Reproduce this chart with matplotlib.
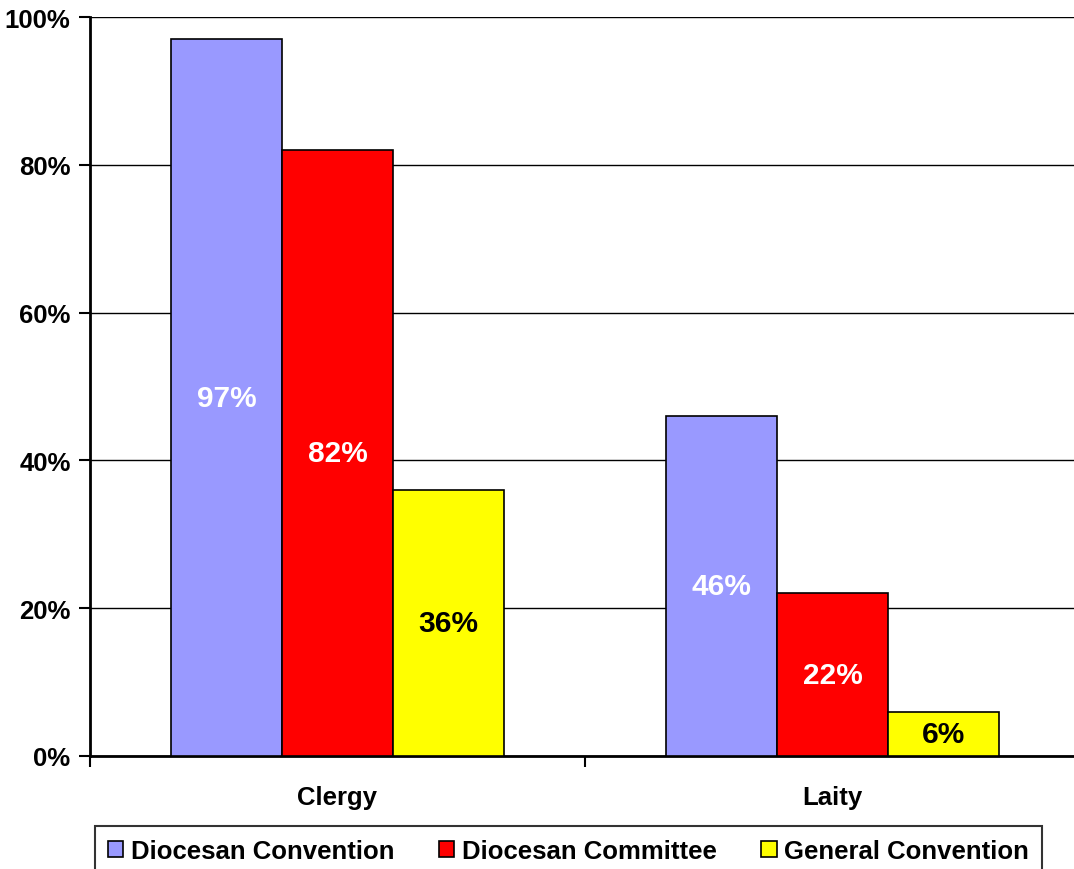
import matplotlib
matplotlib.use("Agg")
import matplotlib.pyplot as plt
import numpy as np
from matplotlib.ticker import FixedLocator

plt.rcParams['font.family'] = ['Liberation Sans', 'DejaVu Sans']

categories = ["Clergy", "Laity"]
series_names = ["Diocesan Convention", "Diocesan Committee", "General Convention"]
diocesan_convention = [97, 46]
diocesan_committee = [82, 22]
general_convention = [36, 6]
series_values = [diocesan_convention, diocesan_committee, general_convention]
colors = ["#9999FF", "#FF0000", "#FFFF00"]
label_colors = ["white", "white", "black"]
yticks = [0, 20, 40, 60, 80, 100]
ytick_labels = ["0%", "20%", "40%", "60%", "80%", "100%"]

fig = plt.figure(figsize=(10.74, 8.70), dpi=100)
ax = fig.add_axes([90/1074, 1-757/870, 990/1074, 739/870])

x = np.arange(len(categories))
width = 0.2245
for i, (name, vals) in enumerate(zip(series_names, series_values)):
    pos = x + (i - 1) * width
    bars = ax.bar(pos, vals, width, color=colors[i], edgecolor="black", linewidth=1.2,
                  label=name, zorder=3)
    for b, v in zip(bars, vals):
        ax.text(b.get_x() + b.get_width()/2, v/2, f"{v}%", ha="center", va="center",
                color=label_colors[i], fontsize=21.5, fontweight="bold", zorder=4)

ax.set_xlim(-0.5, 1.5)
ax.set_ylim(0, 100)
ax.set_yticks(yticks)
ax.set_yticklabels(ytick_labels, fontsize=18.5, fontweight="bold")
ax.yaxis.grid(True, color="black", linewidth=1.0, zorder=0)
ax.set_axisbelow(True)

ax.xaxis.set_major_locator(FixedLocator([-0.5, 0.5, 1.5]))
ax.set_xticklabels(["", "", ""])
ax.xaxis.set_minor_locator(FixedLocator(x))
ax.set_xticklabels(categories, minor=True, fontsize=18.5, fontweight="bold")
ax.tick_params(axis="x", which="minor", length=0, pad=21)
ax.tick_params(axis="x", which="major", length=8, width=1.5, direction="out")
ax.tick_params(axis="y", length=8, width=1.5, direction="out", pad=6)

ax.spines["top"].set_visible(False)
ax.spines["right"].set_visible(False)
ax.spines["left"].set_linewidth(2)
ax.spines["bottom"].set_linewidth(2)

leg = fig.legend(loc="lower left", bbox_to_anchor=(95/1074, -0.008), ncol=3,
                 frameon=True, fancybox=False, edgecolor="black", borderaxespad=0,
                 prop={"size": 18.5, "weight": "bold"}, handlelength=0.6, handleheight=0.6,
                 handletextpad=0.3, columnspacing=1.73, borderpad=0.5)
leg.get_frame().set_linewidth(1.5)

fig.savefig("out.png", dpi=100, facecolor="white")
